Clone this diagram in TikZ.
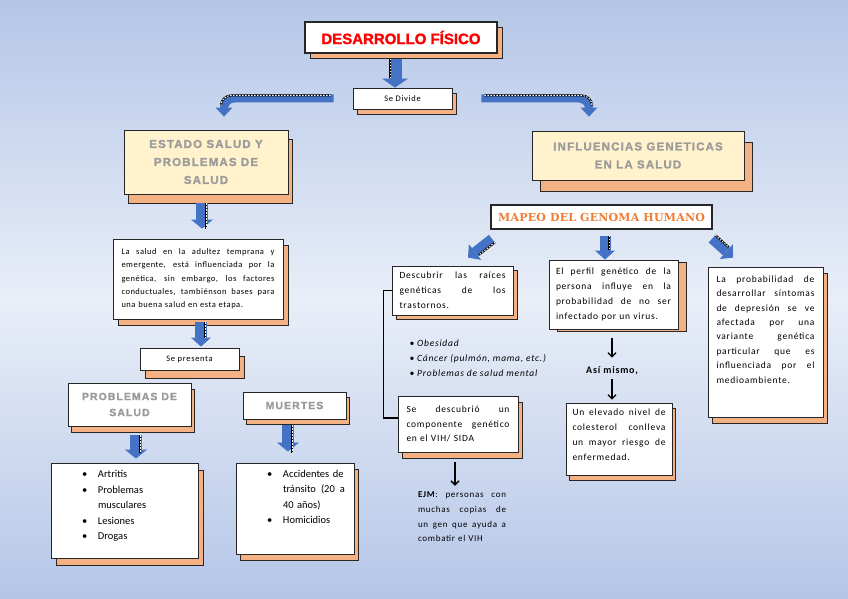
\documentclass[tikz,border=0pt]{standalone}
\usepackage{fontspec}
\setmainfont{Carlito}
\newfontfamily\headf[LetterSpace=10, BoldFeatures={FakeBold=1.5}]{Liberation Sans}
\newfontfamily\titf[BoldFeatures={FakeBold=1.5}]{Liberation Sans}
\newfontfamily\mapf[LetterSpace=2]{DejaVu Serif}
\newfontfamily\bodyf[LetterSpace=8]{Carlito}
\newfontfamily\saludf[LetterSpace=6]{Carlito}
\usetikzlibrary{arrows.meta}
\usetikzlibrary{shadows}

\definecolor{bgtop}{RGB}{180,198,231}
\definecolor{bgmid}{RGB}{233,238,248}
\definecolor{arrblue}{RGB}{68,114,196}
\definecolor{peach}{RGB}{244,177,131}
\definecolor{cream}{RGB}{255,242,204}
\definecolor{headgray}{RGB}{155,155,155}
\definecolor{mapeoorange}{RGB}{240,125,50}
\definecolor{boxline}{RGB}{38,38,38}

\newcommand{\jl}[1]{{\spaceskip=0pt\xspaceskip=0pt\makebox[\hsize][s]{#1}}\\}
\newcommand{\itm}[1]{\makebox[16pt][l]{\textbullet}#1}

\tikzset{
  box/.style 2 args={draw=boxline, fill=white, line width=0.8pt, inner sep=0pt,
    general shadow={fill=peach, draw=boxline, line width=0.8pt, shadow xshift=#1, shadow yshift=-#2}},
  headtxt/.style={text=headgray, font=\headf\bfseries\fontsize{11.5}{18}\selectfont, align=center},
  bodytxt/.style={font=\bodyf\fontsize{9.5}{15}\selectfont, align=left},
  blk/.style 2 args={line width=#1, arrblue, -{Triangle[width=#2, length=9pt, line width=0pt]}},
  hatch/.style={postaction={draw=black, line width=2pt, arrows=-, shorten >=10pt, transform canvas={#1}},
    postaction={draw=white, line width=1pt, arrows=-, dash pattern=on 1.5pt off 1.5pt, shorten >=10pt, transform canvas={#1}}},
  thinarr/.style={line width=1.3pt, -{Straight Barb[length=4pt, width=8pt]}}
}

\begin{document}
\begin{tikzpicture}[x=1pt, y=-1pt]
\useasboundingbox (0,0) rectangle (848,599);
\shade[top color=bgtop, bottom color=bgmid] (0,0) rectangle (848,300);
\shade[top color=bgmid, bottom color=bgtop] (0,300) rectangle (848,599);

\node[box={5pt}{5pt}, line width=1.2pt, minimum width=192pt, minimum height=31pt, font=\titf\bfseries\fontsize{15}{18}\selectfont, text=red] (titulo) at (401,37.5) {DESARROLLO FÍSICO};
\node[box={4pt}{5pt}, minimum width=99pt, minimum height=21pt, font=\bodyf\fontsize{8.5}{9}\selectfont] (divide) at (402.5,98.5) {Se Divide};

\node[box={4pt}{9pt}, fill=cream, minimum width=164pt, minimum height=64pt, headtxt] (estado) at (206,162) {ESTADO SALUD Y\\PROBLEMAS DE\\SALUD};
\node[box={8pt}{11pt}, fill=cream, minimum width=212pt, minimum height=49pt, headtxt] (influ) at (638,155.5) {INFLUENCIAS GENETICAS\\EN LA SALUD};
\node[draw=boxline, fill=white, line width=1.6pt, minimum width=221pt, minimum height=24pt, inner sep=0pt, font=\mapf\bfseries\fontsize{11}{12}\selectfont, text=mapeoorange] (mapeo) at (601.5,217) {MAPEO DEL GENOMA HUMANO};

\node[box={5pt}{6pt}, minimum width=170pt, minimum height=80pt, text width=153pt, align=left, font=\saludf\fontsize{8.5}{13.3}\selectfont] (salud) at (198,279) {\jl{La salud en la adultez temprana y}\jl{emergente, está influenciada por la}\jl{genética, sin embargo, los factores}\jl{conductuales, tambiénson bases para}una buena salud en esta etapa.};
\node[box={5pt}{8pt}, minimum width=99pt, minimum height=22pt, font=\bodyf\fontsize{8.5}{9}\selectfont] (presenta) at (189.5,359) {Se presenta};
\node[box={3pt}{6pt}, minimum width=123pt, minimum height=43pt, headtxt, font=\headf\bfseries\fontsize{10.5}{16}\selectfont] (probsalud) at (129.5,404.5) {PROBLEMAS DE\\SALUD};
\node[box={3pt}{5pt}, minimum width=103pt, minimum height=27pt, headtxt, font=\headf\bfseries\fontsize{10.5}{16}\selectfont] (muertes) at (294.5,405.5) {MUERTES};
\node[box={5pt}{7pt}, minimum width=147pt, minimum height=95pt, text width=100pt, align=left, font=\fontsize{10.5}{15.5}\selectfont, text depth=73pt] (artritis) at (124.5,510.5) {\hspace*{7.5pt}\itm{Artritis}\\\hspace*{7.5pt}\itm{Problemas}\\\hspace*{23.5pt}musculares\\\hspace*{7.5pt}\itm{Lesiones}\\\hspace*{7.5pt}\itm{Drogas}};
\node[box={4pt}{6pt}, minimum width=118pt, minimum height=91pt, text width=100pt, align=left, font=\fontsize{10.5}{15.3}\selectfont, text depth=69pt] (accid) at (295,508.5) {\hspace*{22pt}\itm{Accidentes de}\\\hspace*{38pt}{\spaceskip=0pt\makebox[62pt][s]{tránsito (20 a}}\\\hspace*{38pt}40 años)\\\hspace*{22pt}\itm{Homicidios}};

\node[box={4pt}{4pt}, minimum width=121pt, minimum height=49pt, text width=106pt, bodytxt] (descubrir) at (452.5,290.5) {\jl{Descubrir las raíces}\jl{genéticas de los}trastornos.};
\node[anchor=west, align=left, font=\bodyf\itshape\fontsize{9.5}{15}\selectfont] (enferm) at (406,358) {\textbullet\ Obesidad\\\textbullet\ Cáncer (pulmón, mama, etc.)\\\textbullet\ Problemas de salud mental};
\node[box={4pt}{6pt}, minimum width=120pt, minimum height=56pt, text width=103pt, bodytxt, font=\bodyf\fontsize{9.5}{14.5}\selectfont] (sedesc) at (458,424) {\jl{Se descubrió un}\jl{componente genético}en el VIH/ SIDA};
\node[text width=88pt, inner sep=0pt, bodytxt, font=\bodyf\fontsize{9}{14.7}\selectfont] (ejm) at (462,517) {\jl{\textbf{EJM}: personas con}\jl{muchas copias de}\jl{un gen que ayuda a}combatir el VIH};

\node[box={8pt}{2pt}, minimum width=129pt, minimum height=69pt, text width=115pt, bodytxt] (perfil) at (613.5,294.5) {\jl{El perfil genético de la}\jl{persona influye en la}\jl{probabilidad de no ser}infectado por un virus.};
\node[inner sep=1pt, font=\bodyf\bfseries\fontsize{10}{12}\selectfont] (asi) at (612,371) {Así mismo,};
\node[box={3pt}{5pt}, minimum width=106pt, minimum height=72pt, text width=93pt, bodytxt, text depth=53pt] (elevado) at (619,439) {\jl{Un elevado nivel de}\jl{colesterol conlleva}\jl{un mayor riesgo de}enfermedad.};
\node[box={4pt}{6pt}, minimum width=115pt, minimum height=150pt, text width=98pt, bodytxt, font=\bodyf\fontsize{9.5}{14.4}\selectfont, text depth=126pt] (probab) at (765.5,342) {\jl{La probabilidad de}\jl{desarrollar síntomas}\jl{de depresión se ve}\jl{afectada por una}\jl{variante genética}\jl{particular que es}\jl{influenciada por el}medioambiente.};

\draw[blk={13pt}{26pt}, hatch={xshift=-5pt}, shorten <=5pt] ([xshift=-6pt]titulo.south) -- ([xshift=-6pt]titulo.south |- divide.north);
\draw[blk={8pt}{17pt}, hatch={shift={(-3pt,3pt)}}, rounded corners=10pt] ([xshift=-19pt]divide.west) -| ([xshift=18pt,yshift=13pt]estado.north);
\draw[blk={8pt}{17pt}, hatch={shift={(3pt,3pt)}}, rounded corners=10pt] ([xshift=29pt]divide.east) -| ([xshift=-49pt,yshift=14pt]influ.north);
\draw[blk={12pt}{22pt}, hatch={xshift=4pt}, shorten <=9pt, shorten >=10pt] ([xshift=-4pt]estado.south) -- ([xshift=-4pt]estado.south |- salud.north);
\draw[blk={12pt}{20pt}, hatch={xshift=4pt}, shorten <=3pt, shorten >=1pt] ([xshift=3pt]salud.south) -- ([xshift=3pt]salud.south |- presenta.north);
\draw[blk={12pt}{22pt}, hatch={xshift=4pt}, shorten <=9pt, shorten >=4pt] ([xshift=6.5pt]probsalud.south) -- ([xshift=6.5pt]probsalud.south |- artritis.north);
\draw[blk={12pt}{22pt}, hatch={xshift=4pt}, shorten <=6pt, shorten >=11pt] ([xshift=-6.5pt]muertes.south) -- ([xshift=-6.5pt]muertes.south |- accid.north);
\draw[blk={11pt}{20pt}, hatch={xshift=4pt}, shorten <=6pt] ([xshift=3.5pt]mapeo.south) -- ([xshift=3.5pt]mapeo.south |- perfil.north);
\draw[blk={10pt}{20pt}, hatch={shift={(3pt,-3.5pt)}}] ([xshift=-109.5pt,yshift=-9pt]mapeo.south) -- ([xshift=15.5pt,yshift=8pt]descubrir.north);
\draw[blk={10pt}{20pt}, hatch={shift={(3.5pt,3.5pt)}}] ([xshift=110.5pt,yshift=-9pt]mapeo.south) -- ([xshift=-32.5pt,yshift=9pt]probab.north);

\draw[line width=1.3pt] (descubrir.west) -- ++(-8,0) |- ([yshift=6pt]sedesc.west);
\draw[thinarr, shorten <=9pt, shorten >=8pt] (perfil.south -| asi.north) -- (asi.north);
\draw[thinarr, shorten <=3pt, shorten >=3pt] (asi.south) -- (asi.south |- elevado.north);
\draw[thinarr, shorten <=10pt, shorten >=6pt] ([xshift=-3pt]sedesc.south) -- ([xshift=-3pt]sedesc.south |- ejm.north);
\end{tikzpicture}
\end{document}
